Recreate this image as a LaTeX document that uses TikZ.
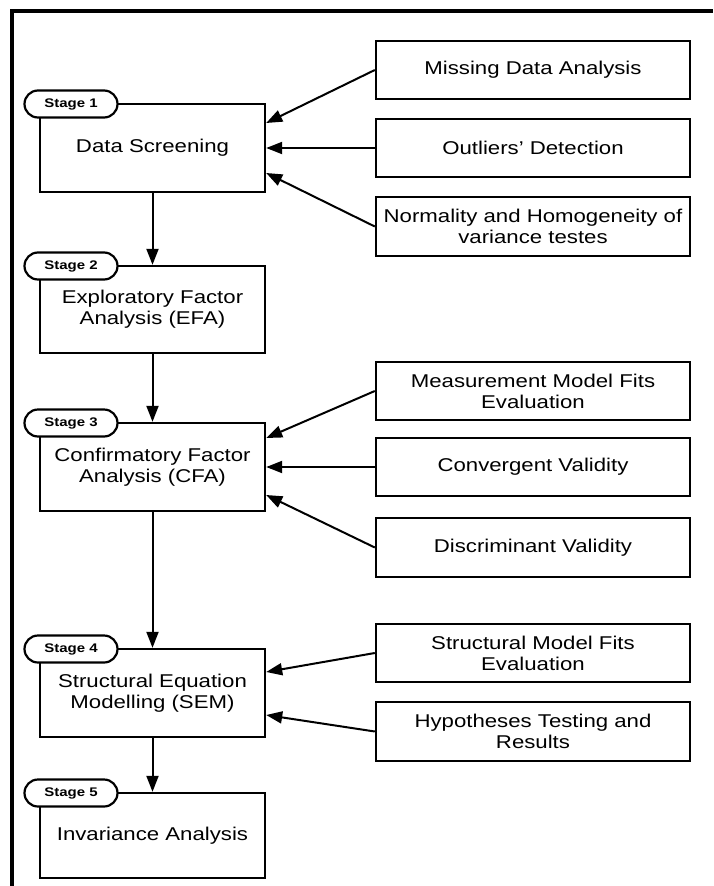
\documentclass[tikz,border=0pt]{standalone}
\usepackage{fontspec}
\setmainfont{Liberation Sans}[FakeStretch=1.2]
\usetikzlibrary{arrows.meta,shapes.misc}

\newcommand{\boxtext}{\fontsize{18.5}{21}\selectfont}
\newcommand{\pilltext}{\fontsize{12.5}{14}\selectfont\bfseries}

\tikzset{
  stagebox/.style={draw, line width=2.4pt, minimum width=225pt, align=center,
                   font=\boxtext, inner sep=0pt},
  sidebox/.style={draw, line width=2.4pt, minimum width=314pt, align=center,
                  font=\boxtext, inner sep=0pt},
  pill/.style={draw, fill=white, line width=2.2pt, rounded rectangle,
               minimum width=93pt, minimum height=27pt, inner sep=0pt,
               font=\pilltext},
  arr/.style={line width=2pt, -{Triangle[length=16pt,width=12pt]}},
  frame/.style={line width=4pt}
}

\begin{document}
\begin{tikzpicture}[x=1pt, y=-1pt]
\useasboundingbox (0,0) rectangle (713,886);

% outer frame (left and top edges)
\coordinate (fbl) at (12,886);
\coordinate (ftl) at (12,11);
\coordinate (ftr) at (713,11);
\draw[frame] (fbl) -- (ftl) -- (ftr);

% stage boxes
\node[stagebox, minimum height=88pt] (s1) at (152.5,148)   {Data Screening};
\node[stagebox, minimum height=87pt] (s2) at (152.5,309.5) {Exploratory Factor\\Analysis (EFA)};
\node[stagebox, minimum height=88pt] (s3) at (152.5,467)   {Confirmatory Factor\\Analysis (CFA)};
\node[stagebox, minimum height=88pt] (s4) at (152.5,693)   {Structural Equation\\Modelling (SEM)};
\node[stagebox, minimum height=85pt] (s5) at (152.5,835.5) {Invariance Analysis};

% side boxes
\node[sidebox, minimum height=58pt] (md) at (533,70)    {Missing Data Analysis};
\node[sidebox, minimum height=58pt] (od) at (533,148)   {Outliers’ Detection};
\node[sidebox, minimum height=59pt] (nh) at (533,226.5) {Normality and Homogeneity of\\variance testes};
\node[sidebox, minimum height=58pt] (mm) at (533,391)   {Measurement Model Fits\\Evaluation};
\node[sidebox, minimum height=58pt] (cv) at (533,467)   {Convergent Validity};
\node[sidebox, minimum height=59pt] (dv) at (533,547.5) {Discriminant Validity};
\node[sidebox, minimum height=58pt] (sm) at (533,653)   {Structural Model Fits\\Evaluation};
\node[sidebox, minimum height=59pt] (ht) at (533,731.5) {Hypotheses Testing and\\Results};

% stage labels
\node[pill] (p1) at (71,104) {Stage 1};
\node[pill] (p2) at (71,266) {Stage 2};
\node[pill] (p3) at (71,423) {Stage 3};
\node[pill] (p4) at (71,649) {Stage 4};
\node[pill] (p5) at (71,793) {Stage 5};

% main flow
\draw[arr] (s1.south) -- (s2.north);
\draw[arr] (s2.south) -- (s3.north);
\draw[arr] (s3.south) -- (s4.north);
\draw[arr] (s4.south) -- (s5.north);

% inputs to each stage
\draw[arr] (md.west) -- ([yshift=25pt]s1.east);
\draw[arr] (od.west) -- (s1.east);
\draw[arr] (nh.west) -- ([yshift=-25pt]s1.east);

\draw[arr] (mm.west) -- ([yshift=29pt]s3.east);
\draw[arr] (cv.west) -- (s3.east);
\draw[arr] (dv.west) -- ([yshift=-28pt]s3.east);

\draw[arr] (sm.west) -- ([yshift=21pt]s4.east);
\draw[arr] (ht.west) -- ([yshift=-22pt]s4.east);
\end{tikzpicture}
\end{document}
